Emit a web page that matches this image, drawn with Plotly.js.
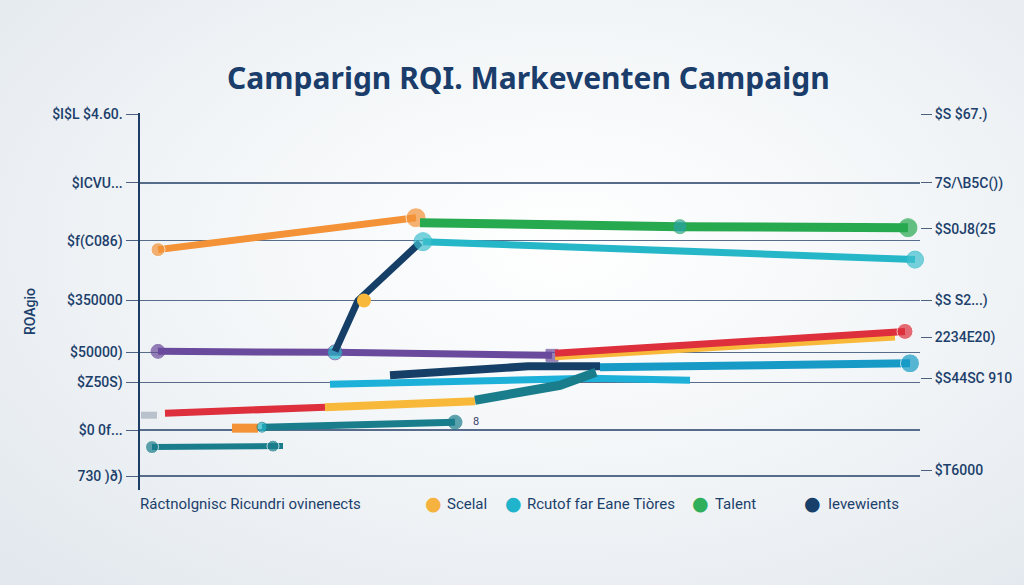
<!DOCTYPE html>
<html><head><meta charset="utf-8">
<script src="https://cdn.plot.ly/plotly-3.0.1.min.js"></script>
<style>
html,body{margin:0;padding:0;width:1024px;height:585px;overflow:hidden;
background:radial-gradient(ellipse at 55% 42%, #ffffff 0%, #f3f6f8 45%, #e1e7ed 100%);}
#chart{width:1024px;height:585px;}
</style>
</head><body><div id="chart"></div>
<script>
// ---- data (x = campaign position, y = value on the drawn scale) ----
const leftTickVals  = [472, 403, 345, 285, 233, 203, 155, 109];
const leftTickText  = ["$I$L $4.60.", "$ICVU...", "$f(C086)", "$350000", "$50000)", "$Z50S)", "$0 0f...", "730 )ð)"];
const rightTickVals = [472, 403, 357, 285, 248, 207, 115];
const rightTickText = ["$S $67.)", "7S/\\B5C())", "$S0J8(25", "$S S2...)", "2234E20)", "$S44SC 910", "$T6000"];

const orangeX = [158, 416];        const orangeY = [336, 368];
const greenX  = [420, 680, 908];   const greenY  = [363, 359, 358];
const cyanX   = [423, 915];        const cyanY   = [344, 326];
const navyX   = [335, 358, 420];   const navyY   = [234, 285, 343];
const purpleX = [158, 335, 552];   const purpleY = [234, 233, 230];
const yellowX = [555, 895];        const yellowY = [228, 248];
const redX    = [555, 905];        const redY    = [232, 254];
const lblueX  = [330, 590, 690];   const lblueY  = [201, 207, 205];
const navy2X  = [390, 528, 600];   const navy2Y  = [210, 219, 219];
const blueX   = [600, 910];        const blueY   = [218, 222];
const tealX   = [475, 560, 596];   const tealY   = [185, 200, 213];
const red2X   = [165, 325];        const red2Y   = [172, 178];
const yellow2X= [325, 475];        const yellow2Y= [178, 184];
const grayX   = [141, 157];        const grayY   = [170, 170];
const orange2X= [232, 258];        const orange2Y= [157, 157];
const teal2X  = [262, 455];        const teal2Y  = [158, 163];
const teal3X  = [152, 273, 283];   const teal3Y  = [138, 139, 139];
const yelPtX  = [364];             const yelPtY  = [285];

const legendLabels = ["Ráctnolgnisc Ricundri ovinenects", "Scelal", "Rcutof far Eane Tiòres", "Talent", "Ievewients"];
const legendColors = [null, "#f6b23e", "#1fb3cc", "#2fae5c", "#173f6a"];
const legendTextX  = [138, 445, 525, 713, 826];
const legendDotX   = [null, 433, 513, 700, 812];

const C = {orange:"#f39237", green:"#27a94f", cyan:"#25b7c8", navy:"#163f67", purple:"#6a4a9c",
           yellow:"#f8b93a", red:"#dd2f3c", lblue:"#1db0d8", blue:"#179bc6", teal:"#1a7d8c", gray:"#b9c2cc", text:"#1c3f6b"};

function line(x, y, color, w, msize, extra) {
  return Object.assign({type:"scatter", mode: msize ? "lines+markers" : "lines", x:x, y:y,
    line:{color:color, width:w}, marker:{color:color, size:msize||0}, showlegend:false, hoverinfo:"skip", cliponaxis:false}, extra||{});
}

const traces = [
  line(grayX, grayY, C.gray, 7),
  line(red2X, red2Y, C.red, 7, 0),
  line(yellow2X, yellow2Y, C.yellow, 8),
  line(orange2X, orange2Y, C.orange, 9),
  line(teal2X, teal2Y, C.teal, 7, 0, {mode:"lines+markers", marker:{color:[C.cyan, C.teal], size:[10, 14]}}),
  line(teal3X, teal3Y, C.teal, 6, 0, {mode:"lines+markers", marker:{color:C.teal, size:[13, 12, 0]}}),
  line(lblueX, lblueY, C.lblue, 7),
  line(navy2X, navy2Y, C.navy, 8),
  line(tealX, tealY, C.teal, 9),
  line(blueX, blueY, C.blue, 8, 0, {mode:"lines+markers", marker:{color:C.blue, size:[0, 19]}}),
  line(purpleX, purpleY, C.purple, 7, 0, {mode:"lines+markers", marker:{color:[C.purple, C.cyan, C.purple], size:[14, 15, 12], symbol:["circle","circle","square"]}}),
  line(yellowX, yellowY, C.yellow, 6),
  line(redX, redY, C.red, 7, 0, {mode:"lines+markers", marker:{color:C.red, size:[0, 16]}}),
  line(navyX, navyY, C.navy, 7),
  line(yelPtX, yelPtY, C.yellow, 0, 14, {mode:"markers"}),
  line(orangeX, orangeY, C.orange, 7, 0, {mode:"lines+markers", marker:{color:C.orange, size:[14, 20]}}),
  line(greenX, greenY, C.green, 9, 0, {mode:"lines+markers", marker:{color:[C.green, "#2aa3a6", C.green], size:[0, 14, 18]}}),
  line(cyanX, cyanY, C.cyan, 7, 0, {mode:"lines+markers", marker:{color:"#41c0cf", size:[18, 17]}}),
];

const font = "Roboto, 'Liberation Sans', sans-serif";
const plotL = 140, plotW = 780, plotBottom = 490, plotH = 377;
const px2paperX = p => (p - plotL) / plotW;
const px2paperY = p => (plotBottom - p) / plotH;

const annotations = legendLabels.map((t, i) => ({
  x: px2paperX(legendTextX[i]), y: px2paperY(504), xref:"paper", yref:"paper", xanchor:"left", yanchor:"middle", showarrow:false,
  text: t, font:{family:font, size:15, color:C.text}
}));
legendColors.forEach((c, i) => {
  if (!c) return;
  annotations.push({x: px2paperX(legendDotX[i]), y: px2paperY(503), xref:"paper", yref:"paper", xanchor:"center", yanchor:"middle",
    showarrow:false, text:"●", font:{family:"'DejaVu Sans', sans-serif", size:19, color:c}});
});
annotations.push({x:px2paperX(30), y:px2paperY(312), xref:"paper", yref:"paper", xanchor:"center", yanchor:"middle",
  showarrow:false, textangle:-90, text:"ROAgio", font:{family:font, size:14, color:C.text, weight:500}});
annotations.push({x:476, y:164, xref:"x", yref:"y", xanchor:"center", showarrow:false, text:"8",
  font:{family:font, size:11, color:"#3a3f6b"}});

const layout = {
  width:1024, height:585,
  paper_bgcolor:"rgba(0,0,0,0)", plot_bgcolor:"rgba(0,0,0,0)",
  margin:{l:140, r:104, t:113, b:95},
  title:{text:"Camparign RQI. Markeventen Campaign", x:0.516, xanchor:"center", y:0.865, yanchor:"middle",
         font:{family:"'Noto Sans', 'Open Sans', sans-serif", size:30, color:"#1a3d6b", weight:700}},
  xaxis:{range:[140, 920], showgrid:false, zeroline:false, showticklabels:false, showline:false, ticks:""},
  yaxis:{range:[95, 473], tickvals:leftTickVals, ticktext:leftTickText, showgrid:true, gridcolor:"#566c8a", gridwidth:1.4,
         zeroline:false, showline:true, linecolor:"#1b3d66", linewidth:2.5, ticks:"outside", ticklen:12, tickcolor:"#4c6180",
         tickfont:{family:font, size:14, color:C.text, weight:500}},
  yaxis2:{range:[95, 473], overlaying:"y", side:"right", tickvals:rightTickVals, ticktext:rightTickText, showgrid:false,
          zeroline:false, showline:false, ticks:"outside", ticklen:11, tickcolor:"#4c6180",
          tickfont:{family:font, size:14, color:C.text, weight:500}},
  annotations:annotations,
  showlegend:false
};
traces.push({type:"scatter", x:[], y:[], yaxis:"y2", showlegend:false});
Plotly.newPlot("chart", traces, layout, {displayModeBar:false, staticPlot:true});
</script>
</body></html>
